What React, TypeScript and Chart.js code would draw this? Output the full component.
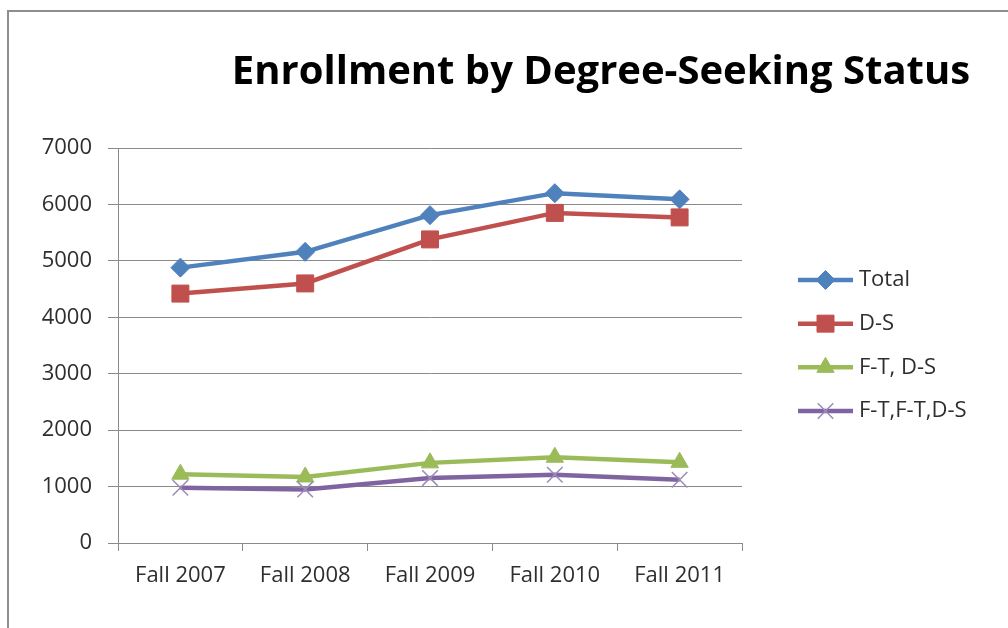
import { useEffect, useRef } from 'react';
import { Chart, registerables } from 'chart.js';
import { drawPoint } from 'chart.js/helpers';

Chart.register(...registerables);

const categories = ['Fall 2007', 'Fall 2008', 'Fall 2009', 'Fall 2010', 'Fall 2011'];
const totalValues = [4880, 5160, 5810, 6200, 6090];
const degreeSeekingValues = [4420, 4600, 5380, 5850, 5770];
const fullTimeDSValues = [1220, 1170, 1420, 1520, 1430];
const ftftDSValues = [980, 950, 1150, 1210, 1120];
const seriesLabels = ['Total', 'D-S', 'F-T, D-S', 'F-T,F-T,D-S'];
const yTickValues = [0, 1000, 2000, 3000, 4000, 5000, 6000, 7000];
const titleText = 'Enrollment by Degree-Seeking Status';

const GRID = '#8a8a8a';
const TEXT = '#2e2e2e';
const FONT = '"Open Sans", "Noto Sans", sans-serif';

const legendTitlePlugin = {
  id: 'legendTitle',
  afterDraw(chart: any) {
    const { ctx, chartArea } = chart;
    ctx.save();
    ctx.fillStyle = '#000000';
    ctx.font = `bold 40px ${FONT}`;
    ctx.textAlign = 'center';
    ctx.textBaseline = 'alphabetic';
    ctx.fillText(titleText, 601, 84);

    const cy = (chartArea.top + chartArea.bottom) / 2;
    chart.data.datasets.forEach((ds: any, i: number) => {
      const y = cy + (i - 1.5) * 43.7;
      const x0 = chartArea.right + 56;
      const x1 = chartArea.right + 111;
      ctx.strokeStyle = ds.borderColor;
      ctx.lineWidth = ds.borderWidth;
      ctx.beginPath();
      ctx.moveTo(x0, y);
      ctx.lineTo(x1, y);
      ctx.stroke();
      ctx.fillStyle = ds.pointBackgroundColor;
      ctx.strokeStyle = ds.pointBorderColor;
      ctx.lineWidth = ds.pointBorderWidth;
      drawPoint(ctx, { pointStyle: ds.pointStyle, radius: ds.pointRadius, rotation: 0, borderWidth: ds.pointBorderWidth }, (x0 + x1) / 2, y);
      ctx.fillStyle = TEXT;
      ctx.font = `22px ${FONT}`;
      ctx.textAlign = 'left';
      ctx.textBaseline = 'middle';
      ctx.fillText(ds.label, chartArea.right + 117, y);
    });
    ctx.restore();
  },
};

export default function App() {
  const ref = useRef<HTMLCanvasElement | null>(null);

  useEffect(() => {
    if (!ref.current) return;
    const mk = (label: string, data: number[], color: string, style: string, radius: number, markerColor: string, bw: number, order: number) => ({
      label,
      data,
      borderColor: color,
      backgroundColor: color,
      borderWidth: 4.5,
      pointStyle: style,
      pointRadius: radius,
      pointHoverRadius: radius,
      pointBackgroundColor: markerColor,
      pointBorderColor: markerColor,
      pointBorderWidth: bw,
      tension: 0,
      order,
    });
    const chart = new Chart(ref.current, {
      type: 'line',
      data: {
        labels: categories,
        datasets: [
          mk(seriesLabels[0], totalValues, '#4F81BD', 'rectRot', 9.5, '#4F81BD', 1, 3),
          mk(seriesLabels[1], degreeSeekingValues, '#C0504D', 'rect', 12, '#C0504D', 1, 2),
          mk(seriesLabels[2], fullTimeDSValues, '#9BBB59', 'triangle', 10, '#9BBB59', 1, 1),
          mk(seriesLabels[3], ftftDSValues, '#8064A2', 'crossRot', 11, '#9C8BB8', 1.5, 0),
        ],
      },
      options: {
        animation: false,
        responsive: false,
        devicePixelRatio: 1,
        layout: { padding: { left: 0, top: 148, right: 266, bottom: 0 } },
        plugins: {
          legend: { display: false },
          title: { display: false },
          tooltip: { enabled: false },
        },
        scales: {
          x: {
            type: 'category',
            offset: true,
            grid: { offset: true, drawOnChartArea: false, drawTicks: true, tickLength: 8, color: GRID },
            border: { display: true, color: GRID, width: 1 },
            ticks: { color: TEXT, font: { family: FONT, size: 22 }, padding: 12, maxRotation: 0, autoSkip: false },
            afterFit: (s: any) => { s.height = 85; },
          },
          y: {
            min: 0,
            max: 7000,
            afterBuildTicks: (s: any) => { s.ticks = yTickValues.map((v) => ({ value: v })); },
            grid: { color: GRID, tickLength: 10, drawTicks: true, lineWidth: 1 },
            border: { display: true, color: GRID, width: 1 },
            ticks: { color: TEXT, font: { family: FONT, size: 22 }, padding: 16, callback: (v: any) => String(v) },
            afterFit: (s: any) => { s.width = 118; },
          },
        },
      },
      plugins: [legendTitlePlugin],
    } as any);
    return () => chart.destroy();
  }, []);

  return (
    <div style={{ position: 'fixed', left: 0, top: 0, width: 1008, height: 628, overflow: 'hidden', background: '#ffffff' }}>
      <div style={{ position: 'absolute', left: 7, top: 10, width: 1100, height: 700, border: '2px solid #8e8e8e', boxSizing: 'border-box' }} />
      <canvas ref={ref} width={1008} height={628} style={{ position: 'absolute', left: 0, top: 0, width: 1008, height: 628 }} />
    </div>
  );
}
